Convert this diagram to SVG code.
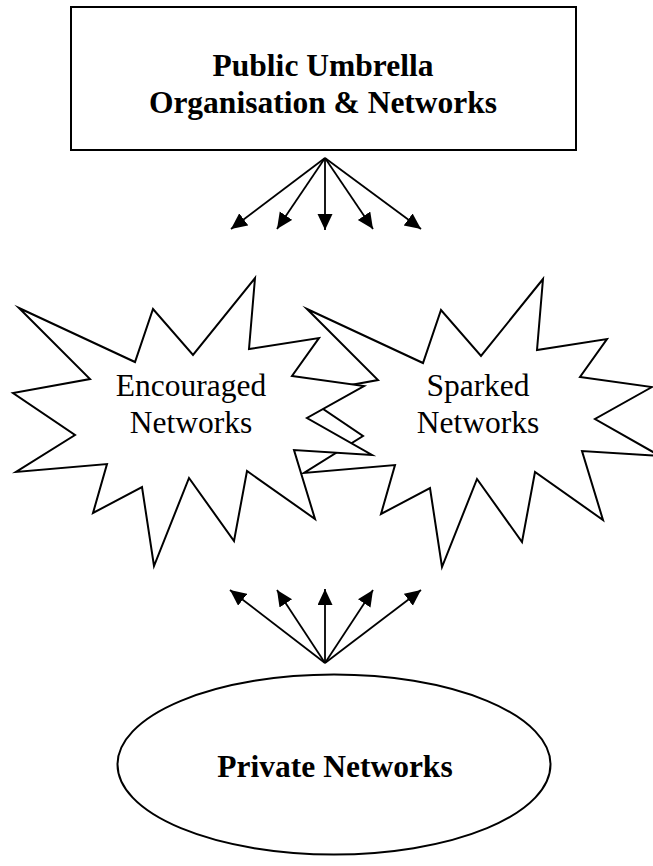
<svg xmlns="http://www.w3.org/2000/svg" xmlns:xlink="http://www.w3.org/1999/xlink" width="653" height="866" viewBox="0 0 653 866">
  <style>
    .shape { fill: #ffffff; stroke: #000000; stroke-width: 2; }
    .burst { fill: #ffffff; stroke: #000000; stroke-width: 2; stroke-linejoin: miter; stroke-miterlimit: 8; }
    .label { font-family: "Liberation Serif", "Times New Roman", serif; font-size: 31.5px; fill: #000000; text-anchor: middle; }
    .bold { font-weight: bold; }
    .link { stroke: #000000; stroke-width: 1.8; fill: none; marker-end: url(#arrow); }
  </style>
  <defs>
    <marker id="arrow" markerUnits="userSpaceOnUse" markerWidth="17" markerHeight="16" refX="16" refY="7.5" orient="auto">
      <path d="M0,0 L16,7.5 L0,15 Z" fill="#000000"/>
    </marker>
    <!-- 12-point explosion outline, reused for both bursts -->
    <polygon id="burst" class="burst" points="19,308 135,362 153,309 193,355 255,278 249,349 319,338 292,376 364,386 307,418 372,455 294,450 315,519 247,471 234,541 189,478 154,566 142,487 93,513 107,464 16,472 75,435 13,393 90,379"/>
  </defs>

  <rect width="653" height="866" fill="#ffffff"/>

  <!-- top box -->
  <g id="public-umbrella">
    <rect class="shape" x="71" y="7" width="505" height="143"/>
    <text class="label bold" x="323" y="76">Public Umbrella</text>
    <text class="label bold" x="323" y="113">Organisation &amp; Networks</text>
  </g>

  <!-- right burst sits underneath the left one -->
  <g id="sparked-networks">
    <use xlink:href="#burst" href="#burst" transform="translate(288,1)"/>
    <text class="label" x="478" y="396">Sparked</text>
    <text class="label" x="478" y="433">Networks</text>
  </g>

  <g id="encouraged-networks">
    <use xlink:href="#burst" href="#burst"/>
    <text class="label" x="191" y="396">Encouraged</text>
    <text class="label" x="191" y="433">Networks</text>
  </g>

  <!-- bottom ellipse -->
  <g id="private-networks">
    <ellipse class="shape" cx="334" cy="764.5" rx="216.5" ry="90"/>
    <text class="label bold" x="335" y="777">Private Networks</text>
  </g>

  <!-- fan-out arrows -->
  <g id="connectors">
    <line class="link" x1="325" y1="158" x2="231" y2="229"/>
    <line class="link" x1="325" y1="158" x2="277" y2="229"/>
    <line class="link" x1="325" y1="158" x2="325" y2="230"/>
    <line class="link" x1="325" y1="158" x2="373" y2="229"/>
    <line class="link" x1="325" y1="158" x2="421" y2="229"/>

    <line class="link" x1="325" y1="663" x2="230" y2="590"/>
    <line class="link" x1="325" y1="663" x2="277" y2="590"/>
    <line class="link" x1="325" y1="663" x2="325" y2="589"/>
    <line class="link" x1="325" y1="663" x2="373" y2="590"/>
    <line class="link" x1="325" y1="663" x2="421" y2="590"/>
  </g>
</svg>
